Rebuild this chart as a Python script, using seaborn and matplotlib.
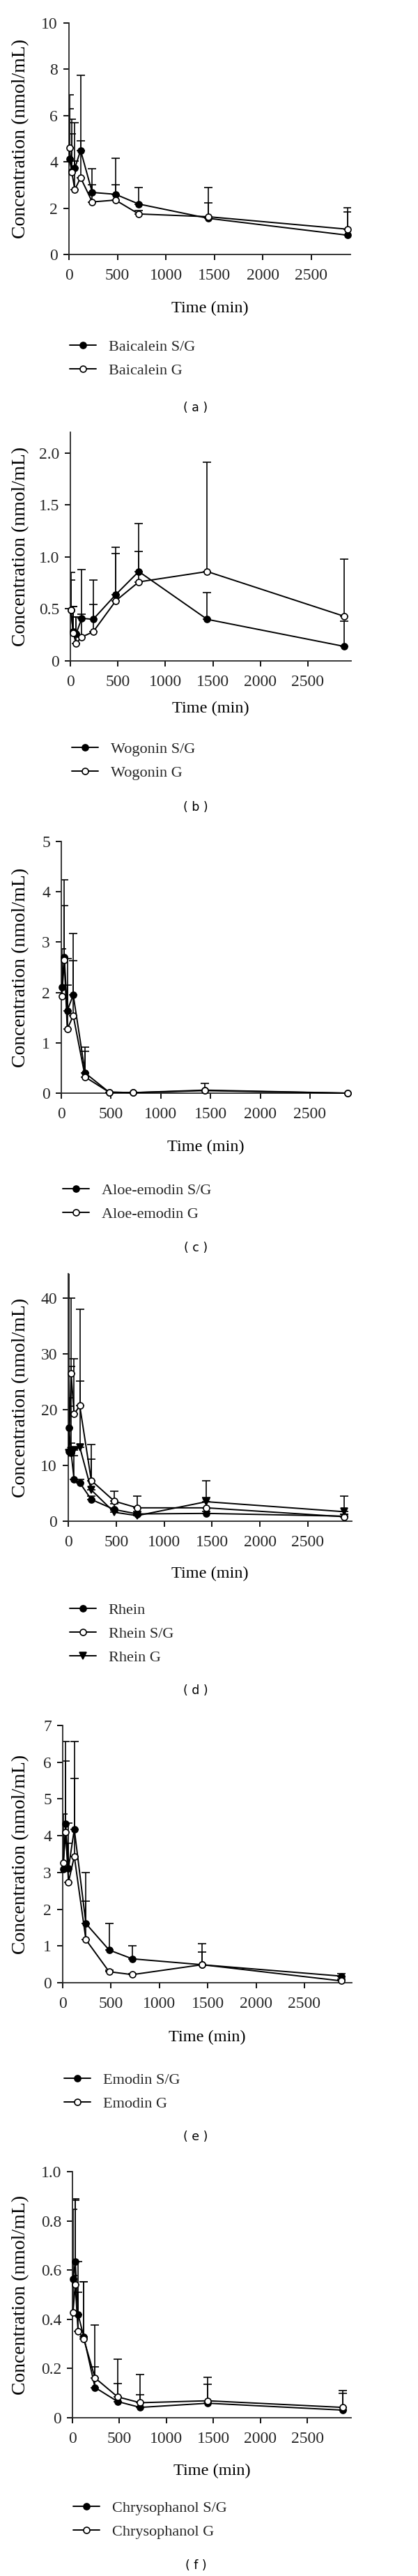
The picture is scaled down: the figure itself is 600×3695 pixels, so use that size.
import matplotlib
matplotlib.use("Agg")
import matplotlib.pyplot as plt
import seaborn as sns
import numpy as np

# sampling times (min), shared by all panels
TIMES = [5, 30, 60, 120, 240, 480, 720, 1440, 2880]
X_TICKS = [0, 500, 1000, 1500, 2000, 2500]

# (a) baicalein: means and upper SD limits
baicalein_sg = [4.12, 3.57, 3.72, 4.50, 2.68, 2.60, 2.18, 1.56, 0.83]
baicalein_sg_top = [6.30, 5.85, 5.70, 7.75, 3.70, 4.15, 2.90, 2.22, 1.85]
baicalein_g = [4.62, 3.55, 2.80, 3.32, 2.27, 2.35, 1.75, 1.63, 1.09]
baicalein_g_top = [6.90, 5.20, 4.05, 4.90, 3.02, 3.02, 1.90, 2.90, 2.01]

# (b) wogonin
wogonin_sg = [0.49, 0.28, 0.26, 0.41, 0.40, 0.64, 0.86, 0.40, 0.14]
wogonin_sg_top = [0.78, 0.52, 0.42, 0.88, 0.78, 1.09, 1.32, 0.66, 0.38]
wogonin_g = [0.49, 0.27, 0.17, 0.23, 0.28, 0.58, 0.76, 0.86, 0.43]
wogonin_g_top = [0.85, 0.52, 0.42, 0.45, 0.54, 1.03, 1.05, 1.91, 0.98]

# (c) aloe-emodin
aloe_sg = [2.10, 2.70, 1.64, 1.95, 0.40, 0.02, 0.01, 0.05, 0.00]
aloe_sg_top = [2.87, 4.24, 2.67, 3.17, 0.92, 0.02, 0.01, 0.05, 0.00]
aloe_g = [1.92, 2.64, 1.27, 1.54, 0.32, 0.02, 0.01, 0.06, 0.00]
aloe_g_top = [2.60, 3.72, 2.14, 2.63, 0.83, 0.02, 0.01, 0.20, 0.00]

# (d) rhein
rhein = [16.8, 12.3, 7.5, 6.9, 3.9, 2.1, 1.3, 1.4, 0.9]
rhein_top = [22.2, 14.0, 11.7, 7.5, 4.5, 3.1, 1.8, 1.8, 1.2]
rhein_sg = [12.5, 26.5, 19.2, 20.7, 7.3, 3.6, 2.4, 2.4, 0.8]
rhein_sg_top = [46.0, 40.0, 29.2, 38.0, 13.75, 5.4, 4.5, 4.3, 1.2]
rhein_g = [12.2, 12.6, 12.7, 13.3, 5.6, 1.6, 1.0, 3.5, 1.7]
rhein_g_top = [20.6, 27.8, 13.0, 25.2, 11.1, 2.0, 1.2, 7.3, 4.5]

# (e) emodin
emodin_sg = [3.10, 4.32, 3.12, 4.18, 1.61, 0.89, 0.65, 0.49, 0.18]
emodin_sg_top = [4.59, 6.57, 4.35, 6.57, 2.99, 1.61, 1.00, 1.06, 0.25]
emodin_g = [3.27, 4.09, 2.74, 3.44, 1.17, 0.30, 0.22, 0.49, 0.05]
emodin_g_top = [4.04, 6.03, 3.80, 5.56, 2.22, 0.35, 0.25, 0.84, 0.10]

# (f) chrysophanol
chryso_sg = [0.563, 0.634, 0.420, 0.330, 0.123, 0.066, 0.042, 0.059, 0.031]
chryso_sg_top = [0.846, 0.890, 0.634, 0.552, 0.377, 0.239, 0.175, 0.163, 0.111]
chryso_g = [0.427, 0.540, 0.350, 0.320, 0.162, 0.085, 0.061, 0.069, 0.042]
chryso_g_top = [0.578, 0.884, 0.510, 0.552, 0.206, 0.139, 0.094, 0.137, 0.099]

# y ticks per panel
yticks_a = [0, 2, 4, 6, 8, 10]
yticks_b = [0, 0.5, 1.0, 1.5, 2.0]
ylabels_b = ["0", "0.5", "1.0", "1.5", "2.0"]
yticks_c = [0, 1, 2, 3, 4, 5]
yticks_d = [0, 10, 20, 30, 40]
yticks_e = [0, 1, 2, 3, 4, 5, 6, 7]
yticks_f = [0, 0.2, 0.4, 0.6, 0.8, 1.0]
ylabels_f = ["0", "0.2", "0.4", "0.6", "0.8", "1.0"]

FILLED = dict(marker="o", markerfacecolor="black")
OPEN = dict(marker="o", markerfacecolor="white")
TRI = dict(marker="v", markerfacecolor="black")

panels = [
    dict(letter="a", series=[("Baicalein S/G", baicalein_sg, baicalein_sg_top, FILLED),
                             ("Baicalein G", baicalein_g, baicalein_g_top, OPEN)],
         yticks=yticks_a, ylabels=[str(v) for v in yticks_a],
         box=(99, 33, 503, 365), xmax=2906, ymax=10,
         time_y=443, leg=(100, 498), letter_y=585),
    dict(letter="b", series=[("Wogonin S/G", wogonin_sg, wogonin_sg_top, FILLED),
                             ("Wogonin G", wogonin_g, wogonin_g_top, OPEN)],
         yticks=yticks_b, ylabels=ylabels_b,
         box=(101, 620, 504, 948), xmax=2955, ymax=2.2,
         time_y=1017, leg=(103, 1075), letter_y=1158),
    dict(letter="c", series=[("Aloe-emodin S/G", aloe_sg, aloe_sg_top, FILLED),
                             ("Aloe-emodin G", aloe_g, aloe_g_top, OPEN)],
         yticks=yticks_c, ylabels=[str(v) for v in yticks_c],
         box=(88, 1207, 502, 1568), xmax=2900, ymax=5,
         time_y=1646, leg=(90, 1708), letter_y=1790),
    dict(letter="d", series=[("Rhein", rhein, rhein_top, FILLED),
                             ("Rhein S/G", rhein_sg, rhein_sg_top, OPEN),
                             ("Rhein G", rhein_g, rhein_g_top, TRI)],
         yticks=yticks_d, ylabels=[str(v) for v in yticks_d],
         box=(98, 1827, 505, 2182), xmax=2958, ymax=44.4,
         time_y=2258, leg=(100, 2310), letter_y=2425),
    dict(letter="e", series=[("Emodin S/G", emodin_sg, emodin_sg_top, FILLED),
                             ("Emodin G", emodin_g, emodin_g_top, OPEN)],
         yticks=yticks_e, ylabels=[str(v) for v in yticks_e],
         box=(90, 2475, 505, 2844), xmax=2990, ymax=7,
         time_y=2923, leg=(92, 2984), letter_y=3065),
    dict(letter="f", series=[("Chrysophanol S/G", chryso_sg, chryso_sg_top, FILLED),
                             ("Chrysophanol G", chryso_g, chryso_g_top, OPEN)],
         yticks=yticks_f, ylabels=ylabels_f,
         box=(104, 3115, 504, 3468), xmax=2967, ymax=1.0,
         time_y=3545, leg=(105, 3598), letter_y=3680),
]

sns.set_theme(style="ticks")
plt.rcParams['font.family'] = ['Liberation Serif', 'DejaVu Serif']
plt.rcParams['axes.linewidth'] = 1.3

W, H = 600, 3695
fig = plt.figure(figsize=(W / 100, H / 100), dpi=100)

for p in panels:
    l, t, r, b = p["box"]
    ax = fig.add_axes([l / W, 1 - b / H, (r - l) / W, (b - t) / H])

    handles = []
    for name, vals, tops, style in p["series"]:
        err = np.array(tops) - np.array(vals)
        ax.errorbar(TIMES, vals, yerr=[np.zeros_like(err), err], fmt="none",
                    ecolor="black", elinewidth=1.2, capsize=4.6, capthick=1.2, zorder=2)
        sns.lineplot(x=TIMES, y=vals, ax=ax, color="black", linewidth=1.4,
                     markersize=6.5, markeredgecolor="black", markeredgewidth=1.2,
                     label=name, estimator=None, zorder=3, clip_on=False, **style)
        handles.append(ax.get_lines()[-1])

    ax.set_xlim(0, p["xmax"])
    ax.set_ylim(0, p["ymax"])
    ax.set_xticks(X_TICKS)
    ax.set_xticklabels([str(v) for v in X_TICKS])
    ax.set_yticks(p["yticks"])
    ax.set_yticklabels(p["ylabels"])
    ax.tick_params(axis="both", labelsize=17, length=5.5, width=1.3, direction="out", color="black")
    ax.tick_params(axis="x", pad=9)
    ax.tick_params(axis="y", pad=6)
    sns.despine(ax=ax)

    ax.set_ylabel("Concentration (nmol/mL)", fontsize=20, color="black")
    ax.yaxis.set_label_coords((42 - l) / (r - l), 0.5)
    ax.set_xlabel("Time (min)", fontsize=17.5, color="black")
    ax.xaxis.set_label_coords(0.5, -((p["time_y"] - 11) - b) / (b - t))

    lx, ly = p["leg"]
    ax.legend(handles=handles, loc="upper left",
              bbox_to_anchor=(lx / W, 1 - (ly - 10.5) / H), bbox_transform=fig.transFigure,
              frameon=False, borderpad=0, borderaxespad=0, handlelength=1.7,
              handletextpad=0.8, labelspacing=0.6, fontsize=16, numpoints=1)

    fig.text(281 / W, 1 - p["letter_y"] / H, "( %s )" % p["letter"], ha="center", va="center",
             fontsize=12.5, family=["DejaVu Sans"], color="black")

fig.savefig("out.png", dpi=100)
